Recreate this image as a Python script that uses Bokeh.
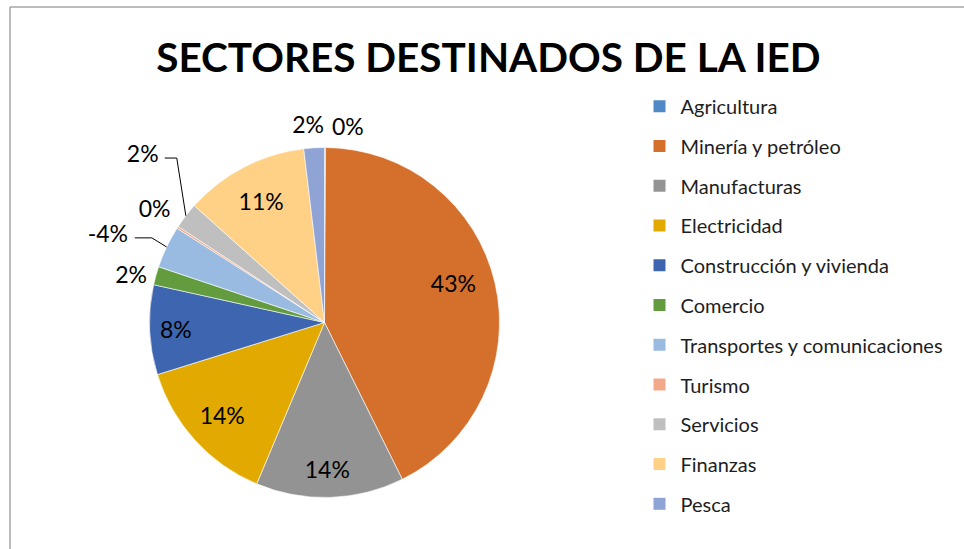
import math
from bokeh.plotting import figure
from bokeh.models import Range1d, ColumnDataSource
from bokeh.core.properties import value
from bokeh.embed import file_html
from bokeh.resources import INLINE

# ---------------- data ----------------
chart_title = "SECTORES DESTINADOS DE LA IED"
sectors = ["Agricultura", "Minería y petróleo", "Manufacturas", "Electricidad",
           "Construcción y vivienda", "Comercio", "Transportes y comunicaciones",
           "Turismo", "Servicios", "Finanzas", "Pesca"]
values = [0.1, 42.7, 13.7, 13.9, 8.3, 1.7, -3.9, 0.2, 2.4, 11.5, 1.9]
colors = ["#5089C6", "#D4702C", "#939393", "#E2AA00", "#3E65AF", "#639B3F",
          "#99BBE1", "#F2A98A", "#BFBFBF", "#FFD186", "#8FA3D5"]

# ---------------- layout / style ----------------
W, H = 964, 549
FONT = "Lato"


def py(Y):
    """page-style y (from top) to data y"""
    return H - Y


cx, cy, R = 324, py(322), 175
# per-label placement (radial factor, angular nudge in degrees) like Excel best-fit
label_k = [1.13, 0.77, 0.84, 0.79, 0.85, 1.14, 1.34, 1.17, 1.42, 0.785, 1.14]
label_da = [6.6, -4.0, 0.7, 0.0, 0.0, -1.35, -3.1, 1.0, 5.4, 0.0, -1.3]
leaders = {6: (21, 17), 8: (16, 12)}  # index: (half text width, elbow length)

p = figure(width=W, height=H, x_range=Range1d(0, W), y_range=Range1d(0, H),
           output_backend="svg", toolbar_location=None, min_border=0,
           x_axis_location=None, y_axis_location=None)
p.grid.visible = False
p.outline_line_color = None
p.background_fill_color = "white"
p.border_fill_color = "white"

# chart border (left and top visible)
p.segment(x0=[9.5, 9.5], y0=[0, py(6.5)], x1=[9.5, W], y1=[py(6.5), py(6.5)],
          line_color="#A6A6A6", line_width=1.5)

# pie
total = sum(abs(v) for v in values)
starts, ends, mids = [], [], []
acc = 0.0
for v in values:
    t1 = acc / total * 2 * math.pi
    acc += abs(v)
    t2 = acc / total * 2 * math.pi
    starts.append(math.pi / 2 - t2)
    ends.append(math.pi / 2 - t1)
    mids.append((t1 + t2) / 2)

src = ColumnDataSource(dict(start=starts, end=ends, color=colors, name=sectors))
p.wedge(x=cx, y=cy, radius=R, start_angle="start", end_angle="end",
        fill_color="color", line_color="white", line_width=0.6, source=src)


# data labels
def pct(v):
    q = v / total * 100
    s = -1 if q < 0 else 1
    return f"{s * int(math.floor(abs(q) + 0.5))}%"


lx, ly, lt = [], [], []
for i, v in enumerate(values):
    a = mids[i] + math.radians(label_da[i])
    d = label_k[i] * R
    x = cx + d * math.sin(a)
    y = cy + d * math.cos(a)
    lx.append(x); ly.append(y); lt.append(pct(v))
    if i in leaders:
        hw, el = leaders[i]
        ex = cx + R * math.sin(mids[i])
        ey = cy + R * math.cos(mids[i])
        sx = x + hw + 6
        yy = y - 5
        p.line(x=[sx, sx + el, ex], y=[yy, yy, ey], line_color="#000000", line_width=1)

p.text(x=lx, y=ly, text=lt, text_font=value(FONT), text_font_size="23px",
       text_align="center", text_baseline="middle", text_color="#000000")

# title
p.text(x=[488.5], y=[py(55.5)], text=[chart_title], text_font=value(FONT),
       text_font_size="40.5px", text_font_style="bold", text_align="center",
       text_baseline="middle", text_color="#000000")

# legend
leg_y = [py(105.7 + 39.76 * i) for i in range(len(sectors))]
p.scatter(x=[659] * len(sectors), y=leg_y, marker="square", size=12,
          fill_color=colors, line_color=None)
p.text(x=[680] * len(sectors), y=leg_y, text=sectors, text_font=value(FONT),
       text_font_size="20px", text_align="left", text_baseline="middle",
       text_color="#1E1E1E")

open("out.html", "w").write(file_html(p, INLINE))
